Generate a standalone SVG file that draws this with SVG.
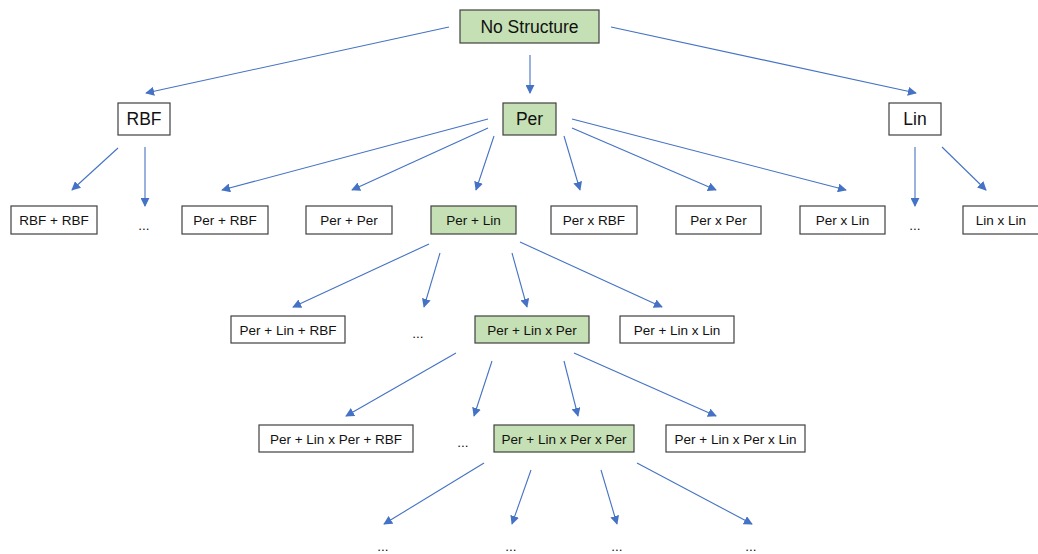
<svg xmlns="http://www.w3.org/2000/svg" width="1038" height="554" viewBox="0 0 1038 554">
<style>
.b{fill:#fff;stroke:#404040;stroke-width:1.2}
.g{fill:#c5e0b4;stroke:#404040;stroke-width:1.2}
text{font-family:"Liberation Sans",Arial,sans-serif;fill:#111;text-anchor:middle}
.l{font-size:17.5px}
.s{font-size:13.5px}
.c line{stroke:#4472c4;stroke-width:1.1;marker-end:url(#a)}
</style>
<defs>
<marker id="a" viewBox="0 0 10 10" refX="9" refY="5" markerWidth="9" markerHeight="9" markerUnits="userSpaceOnUse" orient="auto">
<path d="M0,0L10,5L0,10z" fill="#4472c4"/>
</marker>
</defs>
<rect width="1038" height="554" fill="#fff"/>
<g class="c">
<line x1="449" y1="27" x2="146" y2="93"/>
<line x1="530" y1="55" x2="530" y2="93"/>
<line x1="611" y1="27" x2="916" y2="93"/>
<line x1="118" y1="148" x2="72" y2="190"/>
<line x1="145" y1="147" x2="145" y2="206"/>
<line x1="488" y1="119" x2="222" y2="190"/>
<line x1="488" y1="128" x2="352" y2="190"/>
<line x1="494" y1="136" x2="476" y2="190"/>
<line x1="564" y1="136" x2="580" y2="190"/>
<line x1="572" y1="128" x2="716" y2="190"/>
<line x1="572" y1="119" x2="846" y2="190"/>
<line x1="915" y1="147" x2="915" y2="206"/>
<line x1="942" y1="147" x2="986" y2="190"/>
<line x1="429" y1="244" x2="293" y2="307"/>
<line x1="440" y1="253" x2="424" y2="307"/>
<line x1="512" y1="253" x2="527" y2="307"/>
<line x1="520" y1="242" x2="662" y2="307"/>
<line x1="456" y1="353" x2="346" y2="416"/>
<line x1="492" y1="361" x2="474" y2="416"/>
<line x1="564" y1="361" x2="578" y2="416"/>
<line x1="574" y1="353" x2="716" y2="416"/>
<line x1="484" y1="463" x2="384" y2="524"/>
<line x1="531" y1="470" x2="512" y2="524"/>
<line x1="601" y1="470" x2="617" y2="524"/>
<line x1="637" y1="463" x2="752" y2="524"/>
</g>
<g id="n-root"><rect class="g" x="460" y="10" width="139" height="33"/><text class="l" x="529.5" y="33">No Structure</text></g>
<g id="n-rbf"><rect class="b" x="118" y="103" width="52" height="32"/><text class="l" x="144" y="125">RBF</text></g>
<g id="n-per"><rect class="g" x="503" y="103" width="53" height="32"/><text class="l" x="529.5" y="125">Per</text></g>
<g id="n-lin"><rect class="b" x="889" y="103" width="52" height="32"/><text class="l" x="915" y="125">Lin</text></g>

<g id="n-rbfrbf"><rect class="b" x="11" y="206" width="86" height="28"/><text class="s" x="54" y="225">RBF + RBF</text></g>
<g id="d1"><text class="s" x="144" y="230">...</text></g>
<g id="n-perrbf"><rect class="b" x="182" y="206" width="86" height="28"/><text class="s" x="225" y="225">Per + RBF</text></g>
<g id="n-perper"><rect class="b" x="306" y="206" width="86" height="28"/><text class="s" x="349" y="225">Per + Per</text></g>
<g id="n-perlin"><rect class="g" x="431" y="206" width="85" height="28"/><text class="s" x="473.5" y="225">Per + Lin</text></g>
<g id="n-pxrbf"><rect class="b" x="551" y="206" width="86" height="28"/><text class="s" x="594" y="225">Per x RBF</text></g>
<g id="n-pxper"><rect class="b" x="676" y="206" width="85" height="28"/><text class="s" x="718.5" y="225">Per x Per</text></g>
<g id="n-pxlin"><rect class="b" x="800" y="206" width="85" height="28"/><text class="s" x="842.5" y="225">Per x Lin</text></g>
<g id="d2"><text class="s" x="915" y="230">...</text></g>
<g id="n-lxlin"><rect class="b" x="963" y="206" width="76" height="28"/><text class="s" x="1001" y="225">Lin x Lin</text></g>

<g id="n-plr"><rect class="b" x="231" y="316" width="114" height="27"/><text class="s" x="288" y="335">Per + Lin + RBF</text></g>
<g id="d3"><text class="s" x="418" y="338">...</text></g>
<g id="n-plxp"><rect class="g" x="475" y="316" width="114" height="27"/><text class="s" x="532" y="335">Per + Lin x Per</text></g>
<g id="n-plxl"><rect class="b" x="620" y="316" width="114" height="27"/><text class="s" x="677" y="335">Per + Lin x Lin</text></g>

<g id="n-plxpr"><rect class="b" x="259" y="425" width="154" height="27"/><text class="s" x="336" y="444">Per + Lin x Per + RBF</text></g>
<g id="d4"><text class="s" x="463" y="447">...</text></g>
<g id="n-plxpxp"><rect class="g" x="494" y="425" width="140" height="27"/><text class="s" x="564" y="444">Per + Lin x Per x Per</text></g>
<g id="n-plxpxl"><rect class="b" x="666" y="425" width="139" height="27"/><text class="s" x="735.5" y="444">Per + Lin x Per x Lin</text></g>

<g id="d5"><text class="s" x="383" y="551">...</text></g>
<g id="d6"><text class="s" x="511" y="551">...</text></g>
<g id="d7"><text class="s" x="617" y="551">...</text></g>
<g id="d8"><text class="s" x="751" y="551">...</text></g>
</svg>
